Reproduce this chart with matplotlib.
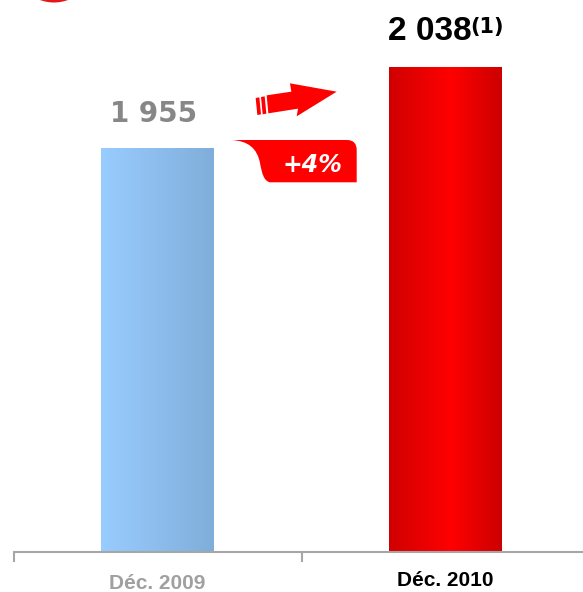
import numpy as np
import matplotlib
matplotlib.use('Agg')
import matplotlib.pyplot as plt
from matplotlib.colors import LinearSegmentedColormap
from matplotlib.path import Path
from matplotlib.patches import PathPatch, Polygon, Circle
import matplotlib.transforms as mtransforms

# ---- data ----
categories = ['Déc. 2009', 'Déc. 2010']
values = [1955, 2038]
value_labels = ['1 955', '2 038']
footnote = '(1)'
growth_label = '+4%'
axis_base = 1541

W, H = 583, 592
fig = plt.figure(figsize=(W / 100, H / 100), dpi=100)
fig.patch.set_facecolor('white')

ax = fig.add_axes([13.5 / W, 40 / H, 576 / W, 552 / H])
ax.set_facecolor('none')
x = np.arange(len(categories))
heights = np.array(values) - axis_base
bars = ax.bar(x, heights, bottom=axis_base, width=0.392, color=['#8dbdec', '#e80000'],
              zorder=2, linewidth=0)

cmaps = [
    LinearSegmentedColormap.from_list('blue', ['#99CCFF', '#80AEDA']),
    LinearSegmentedColormap.from_list('red', [(0, '#D00000'), (0.55, '#FF0000'), (1, '#CC0000')]),
]
grad = np.linspace(0, 1, 256).reshape(1, -1)
for bar, cm in zip(bars, cmaps):
    bx, by = bar.get_x(), bar.get_y()
    bw, bh = bar.get_width(), bar.get_height()
    im = ax.imshow(grad, cmap=cm, extent=[bx, bx + bw, by, by + bh],
                   aspect='auto', zorder=3, interpolation='bilinear')
    im.set_clip_path(bar)

ax.set_xlim(-0.5, 1.5)
ax.set_ylim(axis_base, 2106.6)

for s in ['left', 'right', 'top']:
    ax.spines[s].set_visible(False)
ax.spines['bottom'].set_color('#A6A6A6')
ax.spines['bottom'].set_linewidth(1.5)
ax.spines['bottom'].set_zorder(4)
ax.set_yticks([])
ax.set_xticks(x, categories)
ax.set_xticks([-0.5, 0.5, 1.5], minor=True)
ax.tick_params(axis='x', which='major', length=0, pad=13.5)
ax.tick_params(axis='x', which='minor', length=7.5, width=1.5, color='#A6A6A6', direction='out')
tick_colors = ['#A0A0A0', '#000000']
for lab, c in zip(ax.get_xticklabels(), tick_colors):
    lab.set_color(c)
    lab.set_fontfamily('Liberation Sans')
    lab.set_fontweight('bold')
    lab.set_fontsize(15)
lab0 = ax.get_xticklabels()[0]
lab0.set_transform(lab0.get_transform() + mtransforms.ScaledTranslation(0, -3 / 100, fig.dpi_scale_trans))

# value labels
ax.annotate(value_labels[0], xy=(x[0], values[0]), xytext=(-4, 26), textcoords='offset pixels',
            ha='center', va='baseline', fontsize=20, fontweight='bold',
            fontfamily='DejaVu Sans', color='#878787', zorder=5)
ax.annotate(value_labels[1], xy=(x[1], values[1]), xytext=(26, 27), textcoords='offset pixels',
            ha='right', va='baseline', fontsize=24, fontweight='bold',
            fontfamily='Liberation Sans', color='black', zorder=5)
ax.annotate(footnote, xy=(x[1], values[1]), xytext=(25, 34), textcoords='offset pixels',
            ha='left', va='baseline', fontsize=15, fontweight='bold',
            fontfamily='DejaVu Sans', color='black', zorder=5)

# ---- decorations (pixel overlay) ----
ov = fig.add_axes([0, 0, 1, 1])
ov.set_xlim(0, W)
ov.set_ylim(H, 0)
ov.axis('off')
ov.set_facecolor('none')

ov.add_patch(Circle((54, -38), 40.5, color='#E00000', alpha=0.9, lw=0))

def z(px, py):
    return (px / 3 + 220, py / 3 + 60)

arrow = [z(140, 106), z(214, 95), z(210, 70), z(350, 95), z(230, 169), z(234, 146), z(145, 160)]
ov.add_patch(Polygon(arrow, closed=True, color='#FF0000', lw=0))
stripe1 = [z(107, 114), z(118, 112), z(123, 163), z(112, 165)]
stripe2 = [z(123, 111), z(134, 109), z(139, 161), z(128, 163)]
ov.add_patch(Polygon(stripe1, closed=True, color='#FF0000', lw=0))
ov.add_patch(Polygon(stripe2, closed=True, color='#FF0000', lw=0))

verts = [(231.7, 140), (347, 140), (356.7, 140), (356.7, 150), (356.7, 182.3), (270, 182.3),
         (264, 181), (262, 174), (260, 163),
         (257, 148), (248, 141), (231.7, 140), (231.7, 140)]
codes = [Path.MOVETO, Path.LINETO, Path.CURVE3, Path.CURVE3, Path.LINETO, Path.LINETO,
         Path.CURVE4, Path.CURVE4, Path.CURVE4,
         Path.CURVE4, Path.CURVE4, Path.CURVE4, Path.CLOSEPOLY]
ov.add_patch(PathPatch(Path(verts, codes), facecolor='#FF0000', lw=0))
ov.text(312, 164.5, growth_label, ha='center', va='center', fontsize=17, fontweight='bold',
        fontstyle='italic', fontfamily='DejaVu Sans', color='white')

fig.savefig('out.png', dpi=100)
